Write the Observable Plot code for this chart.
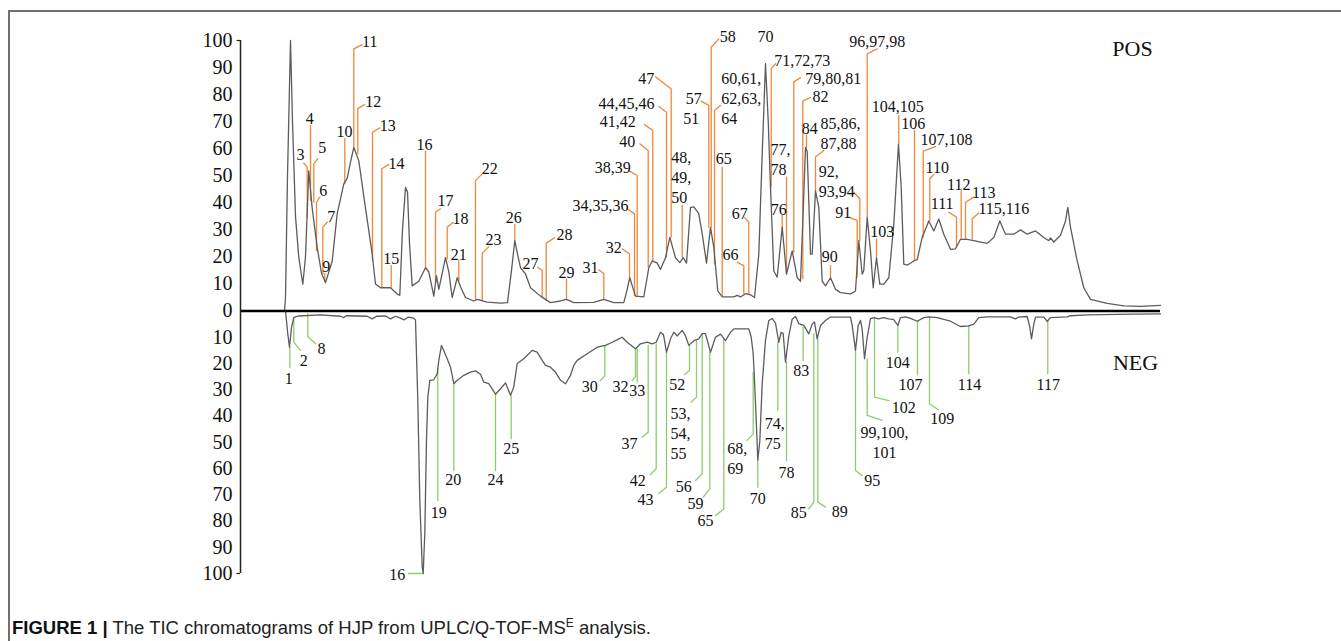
<!DOCTYPE html>
<html><head><meta charset="utf-8">
<script src="https://cdn.jsdelivr.net/npm/d3@7"></script>
<script src="https://cdn.jsdelivr.net/npm/@observablehq/plot@0.6"></script>
<style>
html,body{margin:0;padding:0;background:#fff;}
#wrap{position:relative;width:1341px;height:641px;overflow:hidden;}
#frame{position:absolute;left:8px;top:10px;width:1400px;height:700px;border-top:2px solid #707070;border-left:2px solid #707070;}
#chart{position:absolute;left:0;top:0;}
#caption{position:absolute;left:12px;top:617px;font-family:"Liberation Sans",Arial,sans-serif;font-size:18.5px;line-height:1.15;color:#222;white-space:nowrap;}
#caption b{color:#111;}
#caption sup{font-size:12px;vertical-align:7px;line-height:0;}
</style></head>
<body><div id="wrap"><div id="frame"></div><div id="chart"></div>
<div id="caption"><b>FIGURE 1 |</b> The TIC chromatograms of HJP from UPLC/Q-TOF-MS<sup>E</sup> analysis.</div></div>
<script>
// ---- POS trace (time, relative intensity %) ----
const posTime = [0, 4.4, 4.5, 4.7, 5.0, 5.2, 5.5, 5.83, 6.23, 6.5,
  6.83, 7.17, 7.67, 8.1, 8.5, 9.17, 9.67, 10.33, 10.67, 11.0,
  11.33, 11.83, 12.5, 13.17, 13.5, 14.0, 15.0, 15.67, 15.93, 16.2,
  16.5, 16.7, 16.9, 17.17, 17.83, 18.5, 18.83, 19.33, 19.6, 19.83,
  20.5, 20.83, 21.17, 21.67, 22.0, 22.5, 23.33, 23.67, 24.67, 26.0,
  26.7, 27.1, 27.43, 27.7, 28.0, 28.5, 29.0, 30.0, 31.0, 32.0,
  32.6, 33.33, 35.33, 36.33, 37.33, 38.33, 38.6, 38.93, 39.2, 39.5,
  40.33, 40.6, 40.83, 41.17, 41.67, 42.0, 42.5, 42.93, 43.5, 43.93,
  44.27, 44.6, 45.0, 45.33, 45.83, 46.17, 46.6, 47.0, 47.33, 47.73,
  48.17, 49.33, 49.67, 50.0, 50.5, 51.0, 51.4, 51.83, 52.17, 52.5,
  52.77, 53.0, 53.33, 53.67, 54.17, 54.6, 55.17, 55.67, 56.0, 56.3,
  56.5, 56.67, 57.0, 57.17, 57.5, 57.83, 58.17, 58.5, 59.0, 59.5,
  60.0, 61.0, 61.5, 61.83, 62.17, 62.33, 62.67, 63.0, 63.27, 63.6,
  63.93, 64.33, 64.83, 65.33, 65.8, 66.07, 66.33, 66.7, 67.33, 67.67,
  68.17, 68.83, 69.33, 69.83, 70.33, 71.0, 71.5, 72.0, 72.67, 73.33,
  74.0, 74.67, 75.33, 75.93, 76.5, 77.33, 78.0, 78.67, 79.5, 80.33,
  80.83, 81.0, 81.33, 82.0, 82.5, 82.73, 83.0, 83.67, 84.33, 85.0,
  86.67, 88.33, 90.0, 92.0];
const posIntensity = [0, 0, 5, 50, 100, 70, 35, 19.7, 9.9, 20,
  51.8, 38, 23.5, 14, 10.5, 18.5, 36, 47, 49, 55,
  60.5, 55.5, 38, 21, 10, 8.6, 8.6, 6.3, 5.8, 30,
  45.7, 44, 25, 9.3, 11, 16, 14.5, 5.5, 13, 8,
  19.7, 14.5, 5, 12.3, 9, 5, 3.7, 4.3, 3.3, 2.9,
  3.1, 15, 26, 21, 16, 13.7, 8.6, 5.5, 3.1, 3.7,
  4.3, 3.1, 3.2, 4.3, 3.1, 3.1, 7, 12.3, 9, 5.5,
  5.2, 11, 16, 18.5, 17.7, 15.4, 19.7, 27.2, 19.7, 17.9,
  19.7, 17.7, 38.3, 38.5, 36, 28.5, 17.7, 30.9, 23.5, 7.4,
  5.2, 5.2, 5.8, 5.2, 6.4, 6, 5, 21, 58, 91.4,
  70.4, 45.7, 14.8, 12.5, 31, 13.6, 22.2, 12.3, 11, 40,
  60.5, 59, 21, 21, 44.4, 38.3, 11, 9.3, 12.3, 8,
  6.8, 6.3, 7.4, 26, 13.6, 15, 34.6, 22.2, 8.6, 19.7,
  9.9, 9.9, 12.3, 32, 61.7, 45.7, 17.3, 17, 18.5, 19,
  27.2, 33.3, 29.6, 34, 28.4, 22.8, 23, 26.5, 26.5, 26,
  25.5, 25, 27.2, 33.3, 28.4, 28.4, 30, 28.4, 29.6, 27.2,
  26, 27, 25.5, 28, 33.3, 38.3, 31, 18.5, 8.6, 4.3,
  2.8, 1.9, 1.7, 2.1];

// ---- NEG trace (time, relative intensity %, drawn downward) ----
const negTime = [0, 4.5, 4.73, 4.9, 5.1, 5.33, 5.83, 8.0, 10.0, 10.33,
  10.6, 12.67, 13.17, 13.6, 14.5, 15.0, 15.5, 16.0, 16.33, 16.8,
  17.33, 17.5, 17.73, 17.93, 18.17, 18.27, 18.43, 18.6, 18.73, 18.93,
  19.33, 19.67, 19.83, 20.1, 20.33, 20.67, 21.0, 21.33, 21.67, 22.33,
  23.0, 23.5, 24.0, 24.33, 24.83, 25.5, 26.0, 26.5, 27.0, 27.33,
  27.67, 28.33, 29.17, 29.67, 30.17, 30.5, 31.0, 31.5, 32.0, 32.5,
  33.0, 33.33, 33.67, 34.67, 35.67, 36.5, 37.17, 37.83, 38.17, 38.67,
  39.5, 40.0, 40.67, 41.17, 41.57, 42.0, 42.3, 42.6, 43.0, 43.33,
  43.67, 44.17, 44.5, 44.83, 45.33, 45.83, 46.17, 46.5, 47.0, 47.5,
  48.0, 48.5, 49.0, 49.33, 50.83, 51.07, 51.27, 51.4, 51.6, 51.73,
  51.93, 52.17, 52.5, 52.83, 53.17, 53.5, 53.83, 54.07, 54.27, 54.5,
  54.83, 55.17, 55.5, 55.83, 56.33, 56.83, 57.17, 57.4, 57.67, 58.0,
  58.5, 59.0, 61.0, 61.17, 61.5, 61.77, 62.0, 62.17, 62.4, 62.67,
  63.0, 63.33, 63.8, 64.33, 64.8, 65.3, 65.73, 66.0, 66.5, 67.0,
  67.67, 68.33, 68.83, 69.67, 71.0, 72.0, 72.83, 73.33, 73.83, 74.67,
  77.0, 77.5, 77.83, 78.67, 78.93, 79.1, 79.33, 79.5, 80.33, 80.67,
  81.0, 82.67, 83.0, 84.67, 89.33, 92.0];
const negIntensity = [0, 0, 8.7, 13.8, 6.2, 2.4, 1.9, 1.5, 2, 2.5,
  1.8, 2, 3, 2, 1.9, 3, 2, 2.7, 3.4, 2.3,
  2.7, 3.4, 34, 72, 97.4, 100, 84.7, 49, 32.8, 26.4,
  26.2, 23.9, 18.8, 13.1, 15.1, 18.2, 21.4, 27.7, 26.4, 24.5,
  23.3, 22.8, 24.1, 27.1, 27.7, 31.7, 29.6, 27.4, 32.1, 28.9,
  20, 18.2, 15, 15.7, 18.8, 20.7, 21.4, 23.3, 26.4, 27.7,
  24.5, 20.7, 18.8, 16.3, 13.8, 13.1, 11.9, 10.6, 10, 11.9,
  14.4, 12.5, 11.9, 12.5, 11.9, 8.1, 9, 15.7, 10.6, 8.1,
  9.5, 7.4, 9.5, 13.1, 11.3, 10.6, 8.6, 8.6, 15.7, 10,
  8.8, 11.3, 8.1, 6.8, 6.8, 10, 16.3, 26.4, 44.2, 56.8,
  49.6, 27.7, 11.2, 3.6, 2.9, 4.6, 11.9, 8.1, 8.6, 19.5,
  9.5, 3.1, 2.1, 4.8, 5.5, 8.7, 5, 4.2, 10.6, 5.5,
  3.6, 2.3, 2.3, 5.5, 15, 5.5, 3.6, 7, 18.2, 10,
  2.9, 2.5, 3, 2.5, 3, 3.2, 5.5, 2.5, 2.2, 2.8,
  3.9, 2.5, 2.2, 2.5, 3.9, 5.9, 5.7, 5, 2.5, 2.2,
  2.2, 3, 2.3, 2.1, 6.1, 10.6, 5, 2.3, 2.3, 3.9,
  2.5, 2.2, 1.8, 1.5, 1.2, 1.1];

// ---- peak annotations: [label, peak time, leader start, leader end, elbow time, elbow value, label time, label value, align] ----
const posPeaks = [
  ["3", 6.67, 34.7, 53.2, 6.33, 54.6, 6.0, 58.1],
  ["4", 7.0, 40.9, 68.6, null, null, 6.93, 71.6],
  ["5", 7.33, 40.2, 54.4, 7.73, 56.3, 8.17, 60.8],
  ["6", 7.6, 22.4, 40.2, 7.93, 42.1, 8.27, 44.8],
  ["7", 8.23, 13.8, 31.0, 8.67, 32.8, 9.07, 35.3],
  ["9", 8.43, 11.0, 13.9, null, null, 8.57, 16.8],
  ["10", 10.43, 47.0, 63.7, null, null, 10.4, 66.7],
  ["11", 11.33, 60.6, 96.9, 12.17, 98.5, 12.93, 100],
  ["12", 11.73, 58.1, 74.8, 12.4, 76.3, 13.27, 77.8],
  ["13", 13.2, 18.7, 66.1, 13.93, 67.7, 14.73, 68.9],
  ["14", 14.13, 8.8, 52.6, 14.83, 54.2, 15.6, 55.0],
  ["15", 15.07, 8.8, 16.8, null, null, 15.07, 19.9],
  ["16", 18.5, 15.6, 59.1, null, null, 18.4, 61.8],
  ["17", 19.5, 10.1, 36.5, 20.0, 37.8, 20.5, 41.1],
  ["18", 20.67, 19.3, 31.0, 21.27, 32.8, 22.0, 34.5],
  ["21", 21.83, 11.3, 18.7, null, null, 21.83, 21.1],
  ["22", 23.5, 4.5, 48.2, 24.17, 50.7, 24.93, 52.9],
  ["23", 24.17, 3.9, 21.3, 24.83, 23.8, 25.3, 26.8],
  ["26", 27.43, 26.1, 32.0, null, null, 27.33, 34.9],
  ["27", 30.17, 5.4, 15.0, 29.73, 16.2, 29.0, 18.0],
  ["28", 30.57, 3.9, 25.1, 31.4, 27.1, 32.4, 28.5],
  ["29", 32.6, 4.5, 11.9, null, null, 32.6, 14.7],
  ["31", 36.33, 4.4, 13.8, 35.83, 15.2, 35.0, 16.6],
  ["32", 38.9, 12.5, 21.1, 38.17, 23.0, 37.33, 23.8],
  ["34,35,36", 39.4, 5.7, 35.9, 38.67, 37.8, 36.0, 39.3],
  ["38,39", 39.67, 5.4, 50.1, 38.83, 51.9, 37.23, 53.4],
  ["40", 40.77, 16.2, 59.3, 39.93, 61.8, 38.67, 63.0],
  ["41,42", 41.23, 18.7, 66.7, 40.4, 68.9, 37.73, 70.4],
  ["44,45,46", 42.6, 19.9, 73.5, 41.83, 75.6, 38.6, 77.2],
  ["47", 43.07, 27.3, 82.1, 41.5, 86.6, 40.57, 86.4],
  ["48,\n49,\n50", 44.17, 19.9, 39.0, null, null, 43.07, 49.7, "start"],
  ["51", null, null, null, null, null, 45.07, 71.6],
  ["57", 46.83, 31.0, 76.0, 46.07, 77.6, 45.33, 78.8],
  ["58", 47.07, 31.0, 97.5, 47.83, 100.6, 48.73, 101.8],
  ["60,61,\n62,63,\n64", 47.4, 17.4, 74.1, 48.0, 76.0, 48.07, 79.0, "start"],
  ["65", 48.17, 5.7, 53.2, null, null, 48.33, 56.6],
  ["66", 50.33, 6.4, 16.8, 49.67, 18.0, 49.0, 21.1],
  ["67", 50.83, 6.4, 32.8, 50.43, 34.5, 49.93, 36.5],
  ["70", null, null, null, null, null, 52.5, 101.8],
  ["71,72,73", 53.07, 46.0, 89.5, 53.5, 91.4, 56.17, 92.9],
  ["76", 54.17, 31.0, 35.3, null, null, 53.83, 38.0],
  ["77,\n78", 54.6, 13.8, 49.5, null, null, 53.0, 56.3, "start"],
  ["79,80,81", 55.33, 21.7, 84.8, 56.0, 86.2, 59.27, 86.4],
  ["82", 56.23, 11.9, 77.6, 57.0, 79.0, 58.0, 79.7],
  ["84", 56.6, 60.6, 64.9, null, null, 56.93, 67.9],
  ["85,86,\n87,88", 57.5, 44.5, 56.9, 58.33, 59.3, 58.0, 66.1, "start"],
  ["90", 59.0, 12.5, 16.8, null, null, 58.93, 20.3],
  ["91", 61.67, 12.5, 33.5, 60.83, 34.7, 60.27, 36.9],
  ["92,\n93,94", 61.93, 26.1, 41.5, 61.33, 43.9, 57.83, 48.2, "start"],
  ["96,97,98", 62.67, 34.7, 95.1, 63.67, 96.9, 63.67, 100],
  ["103", 63.6, 19.9, 26.7, null, null, 64.17, 29.8],
  ["104,105", 65.83, 61.8, 72.3, null, null, 65.73, 76.0],
  ["106", 67.4, 18.7, 66.7, null, null, 67.27, 69.8],
  ["107,108", 68.27, 27.3, 59.1, 69.5, 60.8, 70.6, 63.7],
  ["110", 68.93, 33.5, 48.9, 69.33, 50.5, 69.67, 53.4],
  ["111", 71.6, 23.6, 34.7, 70.83, 36.5, 70.17, 39.9],
  ["112", 72.07, 26.7, 44.5, null, null, 71.83, 47.0],
  ["113", 72.5, 26.7, 40.2, 73.33, 42.1, 74.33, 44.3],
  ["115,116", 73.17, 26.7, 34.1, 73.83, 36.2, 76.33, 38.2]
];
const negPeaks = [
  ["1", 4.93, 13.8, 21.4, null, null, 4.83, 25.4],
  ["2", 5.33, 3.0, 11.9, 6.0, 15.0, 6.33, 18.6],
  ["8", 6.73, 1.1, 9.7, 7.5, 12.5, 8.1, 13.8],
  ["16", 18.27, 100, 100, 16.8, 100, 15.67, 100],
  ["19", 19.73, 22.0, 72.2, null, null, 19.83, 76.3],
  ["20", 21.33, 27.7, 60.8, null, null, 21.27, 63.9],
  ["24", 25.5, 31.8, 60.8, null, null, 25.5, 63.9],
  ["25", 27.07, 32.2, 48.7, null, null, 27.07, 51.9],
  ["30", 36.43, 13.1, 24.6, 36.0, 26.5, 34.93, 28.4],
  ["32", 39.5, 14.4, 25.0, 39.17, 26.5, 38.0, 28.4],
  ["33", 39.67, 14.4, 27.1, null, null, 39.67, 30.0],
  ["37", 40.77, 13.1, 46.2, 40.17, 48.1, 38.9, 50.0],
  ["42", 41.57, 12.5, 60.1, 41.0, 62.3, 39.73, 64.3],
  ["43", 42.6, 15.7, 67.1, 41.83, 69.4, 40.5, 71.5],
  ["52", 44.9, 13.1, 22.7, 44.4, 24.2, 43.67, 27.7],
  ["53,\n54,\n55", 45.6, 11.2, 32.8, 45.07, 34.7, 43.0, 46.2, "start"],
  ["56", 46.17, 8.7, 62.0, 45.5, 64.6, 44.33, 66.5],
  ["59", 46.93, 15.7, 67.7, 46.27, 70.9, 45.5, 72.8],
  ["65", 48.33, 10.6, 75.4, 47.5, 77.9, 46.5, 79.5],
  ["68,\n69", 51.27, 23.3, 46.8, 50.67, 49.3, 48.67, 55.7, "start"],
  ["70", 51.73, 57.0, 67.1, null, null, 51.73, 71.2],
  ["74,\n75", 53.73, 11.9, 37.9, null, null, 52.43, 46.2, "start"],
  ["78", 54.6, 19.5, 57.0, null, null, 54.6, 61.0],
  ["83", 56.27, 6.2, 18.9, null, null, 56.07, 22.4],
  ["85", 57.33, 8.7, 72.8, 56.83, 75.4, 55.83, 76.6],
  ["89", 57.73, 10.6, 72.8, 58.5, 74.7, 59.93, 76.0],
  ["95", 61.5, 15.0, 60.8, 62.17, 62.7, 63.17, 64.2],
  ["99,100,\n101", 62.67, 18.2, 39.8, 64.17, 41.7, 64.4, 49.6],
  ["102", 63.4, 2.4, 32.8, 64.83, 34.1, 66.33, 36.4],
  ["104", 65.73, 5.5, 15.7, null, null, 65.73, 19.2],
  ["107", 67.7, 3.9, 24.2, null, null, 67.0, 27.5],
  ["109", 68.9, 2.4, 35.4, 69.8, 37.6, 70.17, 40.7],
  ["114", 72.83, 5.5, 23.9, null, null, 72.9, 27.5],
  ["117", 80.73, 3.9, 23.9, null, null, 80.77, 27.5]
];
const modeLabels = [["POS", 89.2, 96.7], ["NEG", 89.5, -19.9]];
const yTickValues = [-100, -90, -80, -70, -60, -50, -40, -30, -20, -10, 0, 10, 20, 30, 40, 50, 60, 70, 80, 90, 100];
const yEndTicks = [-100, 100];

// the NEG half of the original axis is drawn slightly shorter than the POS half
const NEG_SCALE = 0.9704;

// ---- build tables ----
const posLine = posTime.map((t, i) => ({t, v: posIntensity[i]}));
const negLine = negTime.map((t, i) => ({t, v: -negIntensity[i]}));
function leaders(notes, sign) {
  const rows = [];
  notes.forEach((n, i) => {
    const [text, t, v0, v1, et, ev] = n;
    if (t == null) return;
    rows.push({id: i, t, v: sign * v0});
    rows.push({id: i, t, v: sign * v1});
    if (et != null) rows.push({id: i, t: et, v: sign * ev});
  });
  return rows;
}
function labels(notes, sign) {
  return notes.map(n => ({text: n[0], t: n[6], v: sign * n[7], align: n[8] || "middle"}));
}
const allLabels = labels(posPeaks, 1).concat(labels(negPeaks, -1));
const ORANGE = "#f0873a", GREEN = "#8ecb6e", TRACE = "#5c5c5c";

const chart = Plot.plot({
  width: 1341,
  height: 605,
  marginLeft: 240,
  marginRight: 181,
  marginTop: 40,
  marginBottom: 32,
  style: {fontFamily: "'Liberation Serif', 'Times New Roman', serif", background: "transparent", overflow: "visible"},
  x: {domain: [0, 92], axis: null},
  y: {transform: v => (v < 0 ? v * NEG_SCALE : v), domain: [-100 * NEG_SCALE, 100]},
  marks: [
    Plot.line(leaders(posPeaks, 1), {x: "t", y: "v", z: "id", stroke: ORANGE, strokeWidth: 1.3}),
    Plot.line(leaders(negPeaks, -1), {x: "t", y: "v", z: "id", stroke: GREEN, strokeWidth: 1.3}),
    Plot.line(posLine, {x: "t", y: "v", stroke: TRACE, strokeWidth: 1.3}),
    Plot.line(negLine, {x: "t", y: "v", stroke: TRACE, strokeWidth: 1.3}),
    Plot.ruleY([0], {x1: 0, x2: 92, stroke: "#000", strokeWidth: 2.5}),
    Plot.ruleX([0], {y1: -100, y2: 100, stroke: "#222", strokeWidth: 1.5}),
    Plot.ruleY(yEndTicks, {x1: -0.35, x2: 0, stroke: "#222", strokeWidth: 1.2}),
    Plot.axisY(yTickValues, {tickSize: 0, tickPadding: 8, tickFormat: d => Math.abs(d), fontSize: 20, fill: "#111", label: null}),
    Plot.text(allLabels.filter(d => d.align === "middle"), {x: "t", y: "v", text: "text", fontSize: 16, lineHeight: 1.25, fill: "#111", textAnchor: "middle"}),
    Plot.text(allLabels.filter(d => d.align === "start"), {x: "t", y: "v", text: "text", fontSize: 16, lineHeight: 1.25, fill: "#111", textAnchor: "start"}),
    Plot.text(modeLabels, {x: d => d[1], y: d => d[2], text: d => d[0], fontSize: 22, fill: "#111", textAnchor: "middle"})
  ]
});
document.getElementById("chart").appendChild(chart);
</script>
</body></html>
